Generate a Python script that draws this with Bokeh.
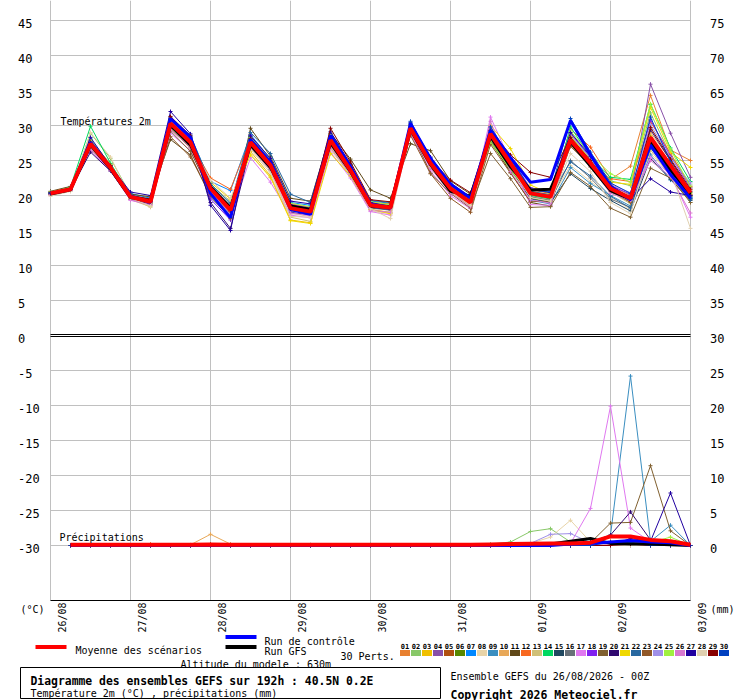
import math
from bokeh.plotting import figure
from bokeh.models import Range1d
from bokeh.embed import file_html
from bokeh.resources import INLINE
from bokeh.core.properties import value

FONT = "DejaVu Sans Mono"

# ---------------- data ----------------
hours = list(range(0, 193, 6))          # 26/08 00Z ... 03/09 00Z, every 6 h
precip_hours = hours[1:]
day_ticks = [0, 24, 48, 72, 96, 120, 144, 168, 192]
day_labels = ["26/08", "27/08", "28/08", "29/08", "30/08", "31/08", "01/09", "02/09", "03/09"]
temp_ticks = [-30, -25, -20, -15, -10, -5, 0, 5, 10, 15, 20, 25, 30, 35, 40, 45]
right_ticks = [0, 5, 10, 15, 20, 25, 30, 35, 40, 45, 50, 55, 60, 65, 70, 75]

member_ids = ["01", "02", "03", "04", "05", "06", "07", "08", "09", "10",
              "11", "12", "13", "14", "15", "16", "17", "18", "19", "20",
              "21", "22", "23", "24", "25", "26", "27", "28", "29", "30"]
member_colors = ["#e88030", "#88c868", "#f0c000", "#8850a8", "#b05010", "#588800", "#0088ff", "#e8d4a8", "#3a8ec0", "#e8a858",
                 "#604818", "#f86820", "#d0c078", "#00d860", "#204860", "#687078", "#e078f0", "#8020f0", "#806030", "#300870",
                 "#f0d800", "#2868a0", "#905828", "#a090e8", "#a0f040", "#d878d0", "#2000a0", "#e0d0b0", "#880000", "#0040c0"]

# 2 m temperature of the 30 perturbations, one list per time step (members 01..30)
step_00 = [20.4, 20.3, 20.1, 20.5, 20.2, 20.3, 20.4, 20.0, 20.3, 20.2, 20.6, 20.3, 20.1, 20.4, 20.2, 20.3, 20.1, 20.4, 20.5, 20.2, 20.3, 20.4, 20.2, 20.3, 20.5, 20.1, 20.4, 19.9, 20.3, 20.3]
step_01 = [21.0, 20.8, 20.7, 21.1, 20.9, 21.0, 20.8, 20.6, 21.0, 20.9, 21.3, 20.9, 20.7, 21.2, 20.9, 20.8, 20.7, 21.0, 21.1, 20.8, 20.9, 21.0, 20.9, 20.8, 21.1, 20.7, 21.0, 20.6, 21.0, 20.9]
step_02 = [27.5, 28.9, 26.8, 27.6, 27.9, 27.2, 28.1, 29.0, 27.4, 27.8, 27.0, 27.3, 26.6, 29.9, 27.2, 27.0, 26.5, 27.8, 27.1, 26.2, 27.4, 27.7, 27.3, 27.0, 28.0, 26.7, 28.3, 26.9, 27.6, 27.2]
step_03 = [24.1, 25.3, 23.8, 24.2, 24.5, 23.7, 24.0, 25.5, 23.9, 24.4, 23.8, 24.1, 23.6, 24.6, 23.8, 23.7, 23.5, 24.3, 23.9, 23.5, 24.0, 24.2, 24.1, 23.8, 24.4, 23.6, 24.2, 23.9, 24.3, 23.9]
step_04 = [19.9, 20.1, 19.5, 20.0, 19.8, 19.6, 20.3, 19.7, 19.8, 19.9, 20.2, 19.7, 19.4, 20.0, 19.9, 19.7, 19.3, 19.8, 20.0, 19.5, 19.6, 20.1, 19.9, 19.7, 19.8, 19.4, 20.5, 19.6, 20.0, 19.8]
step_05 = [19.2, 19.0, 18.6, 19.3, 19.1, 18.9, 19.6, 18.3, 19.1, 19.0, 19.8, 19.0, 18.4, 19.4, 19.2, 19.0, 18.7, 19.1, 19.3, 18.8, 18.9, 19.4, 19.2, 19.0, 19.3, 18.6, 20.0, 18.5, 19.5, 19.1]
step_06 = [30.5, 29.8, 30.1, 30.6, 29.5, 30.2, 31.0, 29.7, 30.4, 30.0, 28.0, 30.3, 29.6, 30.9, 30.1, 29.9, 28.9, 30.7, 29.2, 30.8, 30.0, 31.2, 28.4, 30.5, 30.3, 29.4, 32.0, 30.2, 31.3, 30.8]
step_07 = [27.8, 27.0, 27.5, 28.0, 26.8, 27.4, 28.4, 27.1, 27.7, 27.3, 25.8, 27.6, 27.0, 28.2, 27.5, 27.2, 26.4, 28.1, 26.3, 28.3, 27.2, 28.6, 25.5, 27.9, 27.6, 26.9, 28.8, 27.4, 28.5, 28.2]
step_08 = [21.2, 20.6, 21.3, 20.8, 20.4, 21.0, 22.0, 20.9, 21.5, 20.7, 19.8, 22.5, 21.6, 20.3, 21.1, 21.4, 20.2, 19.5, 20.5, 19.0, 21.9, 21.7, 20.1, 21.2, 21.3, 20.6, 18.6, 22.2, 20.8, 21.4]
step_09 = [18.1, 17.2, 18.5, 17.6, 17.0, 18.0, 20.7, 18.4, 19.0, 17.5, 16.8, 20.9, 19.2, 16.9, 18.2, 18.6, 17.1, 16.5, 17.4, 15.3, 19.5, 18.8, 16.7, 18.3, 18.1, 17.3, 15.0, 19.6, 17.8, 18.0]
step_10 = [27.8, 27.2, 26.3, 28.0, 27.0, 27.5, 28.7, 26.0, 27.9, 27.3, 29.6, 28.2, 26.8, 28.4, 27.6, 27.1, 25.4, 28.6, 27.2, 27.0, 25.8, 29.0, 27.4, 27.7, 28.3, 26.9, 28.5, 26.6, 28.1, 27.9]
step_11 = [24.5, 23.9, 22.8, 24.7, 24.0, 24.2, 25.2, 22.5, 24.6, 23.8, 25.6, 24.9, 23.5, 24.4, 24.3, 23.7, 21.9, 25.0, 24.1, 24.2, 22.6, 26.0, 24.0, 24.4, 25.1, 23.6, 25.3, 23.2, 24.8, 24.6]
step_12 = [18.3, 18.0, 16.5, 18.6, 18.2, 18.1, 19.0, 17.4, 18.5, 17.9, 19.6, 18.8, 16.9, 18.0, 18.4, 17.8, 17.2, 18.7, 18.1, 17.6, 16.4, 20.2, 18.2, 17.9, 18.9, 17.5, 19.2, 17.0, 18.6, 18.5]
step_13 = [17.8, 17.5, 16.1, 18.0, 17.7, 17.9, 18.6, 17.0, 18.2, 17.4, 19.2, 18.3, 16.3, 17.3, 18.1, 17.6, 16.8, 18.2, 17.7, 17.2, 16.0, 19.0, 17.6, 17.3, 18.4, 17.1, 18.8, 16.9, 18.1, 18.0]
step_14 = [28.0, 27.4, 27.2, 28.2, 27.8, 27.5, 28.6, 26.6, 28.1, 27.7, 28.9, 28.3, 26.8, 28.5, 27.9, 27.6, 26.2, 28.4, 27.5, 27.9, 26.0, 28.8, 27.6, 28.0, 28.7, 26.9, 29.1, 27.3, 29.6, 28.2]
step_15 = [23.7, 23.2, 23.0, 23.9, 23.5, 23.4, 24.2, 22.7, 23.8, 23.4, 25.2, 24.0, 22.9, 24.1, 23.6, 23.3, 22.5, 24.1, 23.4, 23.6, 22.8, 24.4, 23.3, 23.7, 24.3, 23.0, 24.5, 23.1, 24.8, 23.9]
step_16 = [18.7, 18.3, 18.0, 18.9, 18.5, 18.4, 19.2, 17.8, 18.8, 18.4, 20.8, 19.0, 18.0, 18.9, 18.6, 18.2, 17.7, 18.9, 18.5, 18.3, 18.0, 19.3, 18.4, 18.6, 19.1, 17.9, 19.0, 18.1, 19.4, 18.8]
step_17 = [18.4, 18.0, 17.6, 18.6, 18.2, 18.1, 18.9, 17.4, 18.5, 18.1, 19.6, 18.8, 17.5, 18.6, 18.3, 17.9, 17.2, 18.5, 18.2, 18.0, 17.4, 19.0, 18.1, 18.3, 18.7, 17.6, 18.4, 16.7, 19.1, 18.5]
step_18 = [29.7, 29.3, 29.5, 29.8, 29.4, 29.6, 30.3, 29.0, 29.9, 29.5, 27.4, 29.8, 29.1, 30.0, 29.6, 29.4, 28.8, 29.9, 29.3, 29.7, 29.2, 30.2, 28.6, 29.6, 29.9, 29.0, 30.4, 29.3, 30.1, 30.6]
step_19 = [24.7, 24.2, 24.5, 24.9, 24.3, 24.6, 25.4, 23.9, 24.8, 24.4, 26.4, 24.8, 24.1, 25.0, 24.6, 24.3, 23.5, 24.9, 23.2, 24.7, 24.1, 25.3, 23.1, 24.6, 24.9, 23.9, 25.5, 24.2, 25.1, 25.2]
step_20 = [21.1, 20.7, 20.9, 21.3, 20.8, 21.0, 21.7, 20.4, 21.2, 20.8, 22.1, 21.3, 20.5, 21.4, 21.0, 20.7, 20.0, 21.3, 20.3, 21.1, 20.6, 21.6, 19.6, 21.0, 21.3, 20.4, 21.8, 20.6, 22.2, 21.5]
step_21 = [19.1, 18.7, 18.9, 19.3, 18.8, 19.0, 19.6, 18.4, 19.2, 18.8, 20.2, 19.3, 18.5, 19.4, 19.0, 18.7, 18.1, 19.3, 18.2, 19.1, 18.6, 19.6, 17.6, 19.0, 19.3, 18.4, 19.8, 18.6, 20.4, 19.5]
step_22 = [28.9, 27.5, 29.8, 28.6, 29.0, 27.9, 29.4, 28.2, 29.1, 28.8, 27.8, 29.6, 28.0, 28.5, 28.3, 28.0, 31.2, 29.7, 26.0, 29.0, 30.0, 29.3, 27.3, 29.5, 27.7, 30.6, 29.2, 28.1, 29.3, 29.8]
step_23 = [24.8, 23.6, 25.2, 24.5, 24.7, 23.9, 25.0, 24.2, 24.4, 24.8, 23.3, 25.1, 24.0, 24.3, 24.2, 23.8, 24.9, 25.3, 22.4, 24.9, 26.7, 25.0, 23.2, 25.1, 23.7, 23.4, 25.2, 24.1, 25.8, 25.4]
step_24 = [20.4, 19.8, 20.6, 20.1, 20.3, 19.6, 20.5, 19.9, 19.3, 20.5, 19.0, 20.8, 19.7, 20.0, 19.5, 19.8, 18.7, 21.1, 18.3, 20.2, 21.5, 20.6, 19.1, 21.0, 20.2, 19.4, 20.9, 19.7, 23.3, 20.8]
step_25 = [19.9, 19.3, 20.1, 19.6, 19.8, 19.1, 20.0, 19.4, 18.8, 20.1, 18.5, 20.3, 19.2, 19.5, 19.0, 19.3, 18.6, 20.6, 18.4, 19.7, 20.2, 20.1, 19.2, 20.7, 19.7, 18.9, 20.4, 19.2, 22.6, 20.5]
step_26 = [28.3, 28.8, 28.0, 28.2, 27.6, 27.9, 28.5, 24.3, 24.0, 28.6, 27.5, 29.5, 27.2, 29.8, 23.1, 25.0, 28.1, 28.9, 23.3, 27.7, 28.4, 24.8, 27.0, 28.7, 29.2, 27.4, 29.0, 26.0, 28.3, 31.0]
step_27 = [25.2, 25.3, 24.6, 24.9, 24.2, 24.7, 25.1, 22.0, 21.7, 25.0, 24.5, 26.9, 24.0, 25.5, 21.0, 22.5, 24.8, 25.4, 21.3, 24.6, 25.2, 22.8, 24.3, 25.3, 25.9, 24.1, 25.6, 23.4, 25.0, 26.2]
step_28 = [22.3, 22.1, 20.8, 21.5, 20.9, 21.2, 21.0, 19.8, 20.0, 21.3, 20.7, 22.4, 20.5, 22.6, 19.3, 19.5, 20.9, 21.4, 18.2, 21.2, 21.9, 19.9, 20.6, 21.6, 23.1, 20.3, 21.5, 19.0, 21.3, 21.8]
step_29 = [24.2, 21.4, 19.5, 20.0, 19.2, 19.6, 19.3, 18.0, 18.5, 20.1, 19.1, 22.0, 18.8, 22.3, 17.8, 18.3, 19.4, 20.2, 16.9, 19.8, 21.6, 18.2, 19.0, 20.4, 21.9, 19.3, 19.5, 17.4, 19.7, 20.3]
step_30 = [34.3, 31.8, 28.6, 35.9, 27.8, 28.3, 27.6, 26.0, 25.8, 29.0, 27.9, 30.5, 26.5, 33.0, 25.3, 27.0, 25.4, 30.8, 23.9, 29.4, 32.6, 26.8, 27.5, 30.1, 33.1, 25.0, 22.4, 27.2, 29.7, 31.2]
step_31 = [26.5, 25.8, 24.4, 28.9, 23.9, 24.3, 23.8, 23.0, 22.2, 25.1, 24.0, 26.0, 22.8, 26.8, 22.3, 23.7, 23.0, 25.6, 22.5, 25.0, 26.2, 23.2, 23.6, 25.4, 26.6, 22.7, 20.5, 23.5, 25.2, 24.8]
step_32 = [25.0, 21.5, 20.2, 22.6, 20.0, 20.4, 19.7, 19.5, 19.8, 20.8, 19.9, 21.3, 19.0, 22.0, 19.3, 19.6, 16.9, 21.1, 19.0, 20.6, 24.0, 19.4, 20.1, 21.8, 21.2, 17.5, 20.0, 15.3, 20.9, 19.6]

temp_mean = [20.3, 20.9, 27.4, 24.0, 19.8, 19.1, 30.3, 27.6, 21.0, 17.9, 27.6, 24.3, 18.2, 17.7, 27.9, 23.6, 18.6, 18.3, 29.6, 24.6, 21.0, 19.0, 28.8, 24.6, 20.3, 19.8, 27.9, 24.6, 21.0, 19.6, 28.3, 24.3, 20.4]
temp_ctrl = [20.3, 20.9, 27.6, 24.0, 19.9, 19.0, 31.0, 28.3, 20.3, 16.8, 28.0, 24.8, 18.0, 17.3, 28.6, 24.1, 18.8, 18.2, 30.3, 25.3, 21.6, 19.6, 29.3, 25.4, 21.9, 22.3, 30.7, 25.8, 21.3, 19.4, 27.2, 23.0, 19.6]
temp_gfs = [20.2, 20.8, 27.2, 23.8, 19.7, 19.2, 30.0, 27.2, 21.2, 18.2, 27.2, 24.0, 18.5, 18.0, 27.5, 23.4, 18.5, 18.4, 29.4, 24.4, 20.6, 19.9, 28.4, 24.1, 20.8, 20.9, 27.6, 24.2, 20.7, 19.5, 27.8, 23.6, 20.2]

# precipitation (mm per 6 h), 26/08 06Z ... 03/09 00Z
prec_mean = [0.1, 0.1, 0.1, 0.1, 0.1, 0.1, 0.1, 0.15, 0.1, 0.1, 0.1, 0.1, 0.1, 0.1, 0.1, 0.1, 0.1, 0.1, 0.1, 0.1, 0.1, 0.15, 0.2, 0.25, 0.3, 0.3, 0.4, 1.3, 1.3, 0.8, 0.6, 0.1]
prec_ctrl = [0, 0, 0, 0, 0, 0, 0, 0, 0, 0, 0, 0, 0, 0, 0, 0, 0, 0, 0, 0, 0, 0, 0, 0, 0, 0.2, 0.3, 0.5, 0.7, 0.5, 0.4, 0]
prec_gfs = [0, 0, 0, 0, 0, 0, 0, 0, 0, 0, 0, 0, 0, 0, 0, 0, 0, 0, 0, 0, 0, 0, 0, 0, 0.2, 0.6, 1.0, 0.3, 0.2, 0.2, 0.1, 0]
p01 = [0, 0, 0, 0, 0.2, 0, 0, 0, 0, 0, 0, 0, 0, 0, 0, 0, 0, 0, 0, 0, 0, 0, 0, 0, 0, 0, 0.3, 0, 0.4, 0.8, 0.3, 0]
p02 = [0, 0, 0, 0, 0, 0, 0, 0, 0, 0, 0, 0, 0, 0, 0, 0, 0, 0, 0, 0, 0, 0.2, 0.5, 2.0, 2.4, 0.5, 0.2, 0, 0, 0, 0, 0]
p03 = [0, 0, 0, 0, 0, 0, 0, 0, 0, 0, 0, 0, 0, 0, 0, 0, 0, 0, 0, 0, 0, 0, 0, 0, 0, 0, 0, 0.3, 0.2, 0, 0, 0]
p04 = [0, 0, 0, 0, 0, 0, 0, 0, 0, 0, 0, 0, 0, 0, 0, 0, 0, 0, 0, 0, 0, 0, 0, 0, 0, 0, 0, 0, 0.3, 0.5, 0, 0]
p05 = [0, 0, 0, 0, 0, 0, 0, 0.2, 0, 0, 0, 0, 0, 0, 0, 0, 0, 0, 0, 0, 0, 0, 0, 0, 0, 0, 0, 0.4, 0, 0, 0, 0]
p06 = [0, 0, 0, 0, 0, 0, 0, 0, 0, 0, 0, 0, 0.1, 0, 0, 0, 0, 0, 0, 0, 0, 0, 0, 0, 0, 0, 0, 0, 0.3, 0, 0, 0]
p07 = [0, 0, 0, 0, 0, 0, 0, 0, 0.2, 0, 0, 0, 0, 0, 0, 0, 0, 0, 0, 0, 0, 0, 0, 0, 0, 0, 0, 0.4, 0.6, 0.3, 0, 0]
p08 = [0, 0, 0, 0, 0, 0, 0, 0, 0, 0, 0, 0, 0, 0, 0, 0, 0, 0, 0, 0, 0, 0, 0, 0.3, 1.2, 3.6, 0.5, 0.2, 0, 0, 0, 0]
p09 = [0, 0, 0, 0, 0, 0, 0, 0, 0, 0, 0, 0, 0, 0, 0, 0, 0, 0, 0, 0, 0, 0, 0, 0, 0, 0, 0.3, 1.5, 24.2, 0.6, 2.9, 0]
p10 = [0, 0, 0, 0, 0, 0, 0.1, 1.6, 0.2, 0, 0, 0, 0, 0, 0, 0, 0, 0, 0, 0, 0, 0, 0, 0, 0, 0, 0, 0, 0, 0, 0, 0]
p11 = [0, 0, 0, 0, 0, 0, 0, 0, 0, 0, 0, 0, 0, 0, 0, 0, 0, 0, 0, 0, 0, 0, 0, 0, 0, 0, 0, 0.5, 0.3, 0, 0, 0]
p12 = [0, 0, 0, 0, 0, 0, 0, 0, 0, 0, 0, 0, 0, 0, 0, 0, 0, 0, 0, 0, 0, 0, 0, 0, 0, 0, 0, 0.6, 0.4, 0.3, 0, 0]
p13 = [0, 0, 0, 0, 0, 0, 0, 0, 0, 0, 0, 0, 0, 0, 0, 0, 0, 0, 0, 0, 0, 0, 0, 0, 0, 0, 0.3, 0.2, 0, 0, 0, 0]
p14 = [0, 0, 0, 0, 0, 0, 0, 0, 0, 0, 0, 0, 0, 0, 0, 0.1, 0, 0, 0, 0, 0, 0, 0, 0, 0, 0, 0, 0.3, 0, 0, 0, 0]
p15 = [0, 0, 0, 0, 0, 0, 0, 0, 0, 0, 0, 0, 0, 0, 0, 0, 0, 0, 0, 0, 0, 0, 0, 0, 0, 0, 0, 0.3, 0.5, 0, 0, 0]
p16 = [0, 0, 0, 0, 0, 0, 0, 0, 0, 0, 0, 0, 0, 0, 0, 0, 0, 0, 0, 0, 0, 0, 0, 0, 0, 0, 0, 0.2, 0, 0, 0, 0]
p17 = [0, 0, 0, 0, 0, 0, 0, 0, 0, 0, 0, 0, 0, 0, 0, 0, 0, 0, 0, 0, 0, 0, 0, 0, 0.1, 0.3, 5.3, 19.9, 2.5, 0.5, 0.2, 0]
p18 = [0, 0, 0, 0, 0, 0, 0, 0, 0, 0, 0, 0, 0, 0, 0, 0, 0, 0, 0, 0, 0, 0, 0, 0, 0, 0, 0, 0, 0.3, 0, 0, 0]
p19 = [0, 0, 0, 0, 0, 0, 0, 0, 0, 0, 0, 0, 0, 0, 0, 0, 0, 0, 0, 0, 0, 0, 0, 0, 0, 0.2, 0.4, 3.2, 3.3, 11.4, 2.1, 0]
p20 = [0, 0, 0, 0, 0, 0, 0, 0, 0, 0, 0, 0, 0, 0, 0, 0, 0, 0, 0, 0, 0, 0, 0, 0, 0, 0, 0.5, 1.5, 4.8, 0.8, 0.3, 0]
p21 = [0, 0, 0, 0, 0, 0, 0, 0, 0, 0, 0, 0, 0, 0, 0, 0, 0, 0, 0, 0, 0, 0, 0, 0, 0, 0, 0, 0.2, 0, 0, 0, 0]
p22 = [0, 0, 0, 0, 0, 0, 0, 0, 0, 0, 0, 0, 0, 0, 0, 0, 0, 0, 0, 0, 0, 0, 0, 0, 0, 0, 0, 0.4, 0.6, 0, 0, 0]
p23 = [0, 0, 0, 0, 0, 0, 0, 0, 0, 0, 0, 0, 0, 0, 0, 0, 0, 0, 0, 0, 0, 0, 0, 0, 0, 0, 0, 0, 0.3, 0.4, 0, 0]
p24 = [0, 0, 0, 0, 0, 0, 0, 0, 0, 0, 0, 0, 0, 0, 0, 0, 0, 0, 0, 0, 0, 0, 0, 0.3, 1.6, 1.7, 0.4, 0, 0, 0, 0, 0]
p25 = [0, 0, 0, 0, 0, 0, 0, 0, 0, 0, 0, 0, 0, 0, 0, 0, 0, 0, 0, 0, 0, 0, 0, 0, 0, 0, 0, 0, 0, 0.4, 1.2, 0]
p26 = [0, 0, 0, 0, 0, 0, 0, 0, 0, 0, 0, 0, 0, 0, 0, 0, 0, 0, 0, 0, 0, 0, 0, 0, 0, 0, 0, 0.2, 0, 0, 0, 0]
p27 = [0, 0, 0, 0, 0, 0, 0, 0, 0, 0, 0, 0, 0, 0, 0, 0, 0, 0, 0, 0, 0, 0, 0, 0, 0, 0, 0, 0, 1.0, 0.6, 7.5, 0]
p28 = [0, 0, 0, 0, 0, 0, 0, 0, 0, 0, 0, 0, 0, 0, 0, 0, 0, 0, 0, 0, 0, 0, 0, 0, 0, 0.4, 0.2, 0, 0, 0, 0, 0]
p29 = [0, 0, 0, 0, 0, 0, 0, 0, 0, 0, 0, 0, 0, 0, 0, 0, 0, 0, 0, 0, 0, 0, 0, 0, 0, 0, 0, 0, 0.2, 0, 0, 0]
p30 = [0, 0, 0, 0, 0, 0, 0, 0, 0, 0, 0, 0, 0, 0, 0, 0, 0, 0, 0, 0, 0, 0, 0, 0, 0, 0, 0, 0.5, 0.4, 0, 0, 0]

temp_steps = [step_00, step_01, step_02, step_03, step_04, step_05, step_06, step_07, step_08, step_09,
              step_10, step_11, step_12, step_13, step_14, step_15, step_16, step_17, step_18, step_19,
              step_20, step_21, step_22, step_23, step_24, step_25, step_26, step_27, step_28, step_29,
              step_30, step_31, step_32]
temp_members = [list(col) for col in zip(*temp_steps)]
prec_members = [p01, p02, p03, p04, p05, p06, p07, p08, p09, p10, p11, p12, p13, p14, p15,
                p16, p17, p18, p19, p20, p21, p22, p23, p24, p25, p26, p27, p28, p29, p30]

# ---------------- page / scales ----------------
W, H = 740, 700
GRID = "#c0c0c0"
PX_T = 7.0          # pixels per degree (and per mm)
PX_H = 640 / 192    # pixels per hour

p = figure(width=W, height=H, x_range=Range1d(0, W), y_range=Range1d(-H, 0),
           output_backend="svg", toolbar_location=None,
           x_axis_location=None, y_axis_location=None,
           min_border=0, min_border_left=0, min_border_right=0, min_border_top=0, min_border_bottom=0,
           outline_line_color=None, background_fill_color="white", border_fill_color="white")
p.grid.visible = False
# chart area: x 50..690 px = 0..192 h ; 45 degC at 20 px, 7 px per unit
p.extra_x_ranges = {"time": Range1d(-50 / PX_H, 192 + 50 / PX_H)}
p.extra_y_ranges = {"temp": Range1d(45 - 680 / PX_T, 45 + 20 / PX_T),
                    "right": Range1d(75 - 680 / PX_T, 75 + 20 / PX_T)}

def t(s, x, y, size="10px", bold=False, align="left", baseline="alphabetic", **kw):
    p.text(x=x, y=y, text=s, text_font=value(FONT), text_font_size=size,
           text_font_style="bold" if bold else "normal", text_color="black",
           text_align=align, text_baseline=baseline, **kw)

# grid
p.segment(x0=day_ticks, y0=[0] * len(day_ticks), x1=day_ticks, y1=[-600] * len(day_ticks),
          x_range_name="time", line_color=GRID, line_width=1)
hy = [v for v in temp_ticks if v != 0]
p.segment(x0=[50] * len(hy), y0=hy, x1=[690] * len(hy), y1=hy, y_range_name="temp",
          line_color=GRID, line_width=1)
# double zero line and bottom axis line
p.segment(x0=[50, 50], y0=[1 / PX_T, -1 / PX_T], x1=[690, 690], y1=[1 / PX_T, -1 / PX_T],
          y_range_name="temp", line_color="black", line_width=1)
p.segment(x0=[50], y0=[-600], x1=[690], y1=[-600], line_color="black", line_width=1)

# tick labels
t([str(v) for v in temp_ticks], [17.5] * len(temp_ticks), [v - 2.7 / PX_T for v in temp_ticks],
  size="12px", baseline="middle", y_range_name="temp")
t([str(v) for v in right_ticks], [709.5] * len(right_ticks), [v - 2.7 / PX_T for v in right_ticks],
  size="12px", baseline="middle", y_range_name="right")
t(day_labels, [d + 11.7 / PX_H for d in day_ticks], [-602] * len(day_ticks),
  align="right", x_range_name="time", angle=math.pi / 2)

# perturbations
for vals, col in zip(temp_members, member_colors):
    p.line(hours, vals, line_color=col, line_width=1, x_range_name="time", y_range_name="temp")
    p.scatter(hours, vals, marker="cross", size=4, line_color=col, line_width=1,
              x_range_name="time", y_range_name="temp")
for vals, col in zip(prec_members, member_colors):
    p.line(precip_hours, vals, line_color=col, line_width=1, x_range_name="time", y_range_name="right")
    p.scatter(precip_hours, vals, marker="cross", size=4, line_color=col, line_width=1,
              x_range_name="time", y_range_name="right")

# GFS, control, mean
for tv, pv, col, lw in [(temp_gfs, prec_gfs, "black", 3),
                        (temp_ctrl, prec_ctrl, "#0000ff", 3),
                        (temp_mean, prec_mean, "#ff0000", 4)]:
    p.line(hours, tv, line_color=col, line_width=lw, x_range_name="time", y_range_name="temp")
    p.line(precip_hours, pv, line_color=col, line_width=lw, x_range_name="time", y_range_name="right")

# in-chart captions
t(["Températures 2m"], [60], [-120.5])
t(["Précipitations"], [59], [-537.3])

# ---------------- bottom panel ----------------
t(["(°C)"], [20], [-609])
t(["(mm)"], [710], [-609])

p.line([35, 66], [-646.5, -646.5], line_color="#ff0000", line_width=4)
p.line([225, 256], [-636.5, -636.5], line_color="#0000ff", line_width=4)
p.line([225, 256], [-646.5, -646.5], line_color="black", line_width=4)
t(["Moyenne des scénarios"], [75], [-650.3])
t(["Run de contrôle"], [264], [-641])
t(["Run GFS"], [264], [-650.8])
t(["Altitude du modele : 630m"], [180], [-664])
t(["30 Perts."], [340], [-656.3])

sq_left = [399.5 + 11 * k for k in range(len(member_ids))]
p.quad(left=sq_left, right=[x + 10 for x in sq_left], top=-649.5, bottom=-655.5,
       fill_color=member_colors, line_color=None)
t(member_ids, [x + 5 for x in sq_left], [-645.6] * len(member_ids), size="7px", bold=True, align="center")

p.quad(left=[20], right=[440], top=[-667], bottom=[-698],
       fill_color=None, line_color="black", line_width=1)
t(["Diagramme des ensembles GEFS sur 192h : 40.5N 0.2E"], [30], [-680.5], size="11.4px", bold=True)
t(["Température 2m (°C) , précipitations (mm)"], [30], [-693])
t(["Ensemble GEFS du 26/08/2026 - 00Z"], [450], [-676])
t(["Copyright 2026 Meteociel.fr"], [450], [-694], size="11.5px", bold=True)

open("out.html", "w").write(file_html(p, INLINE))
